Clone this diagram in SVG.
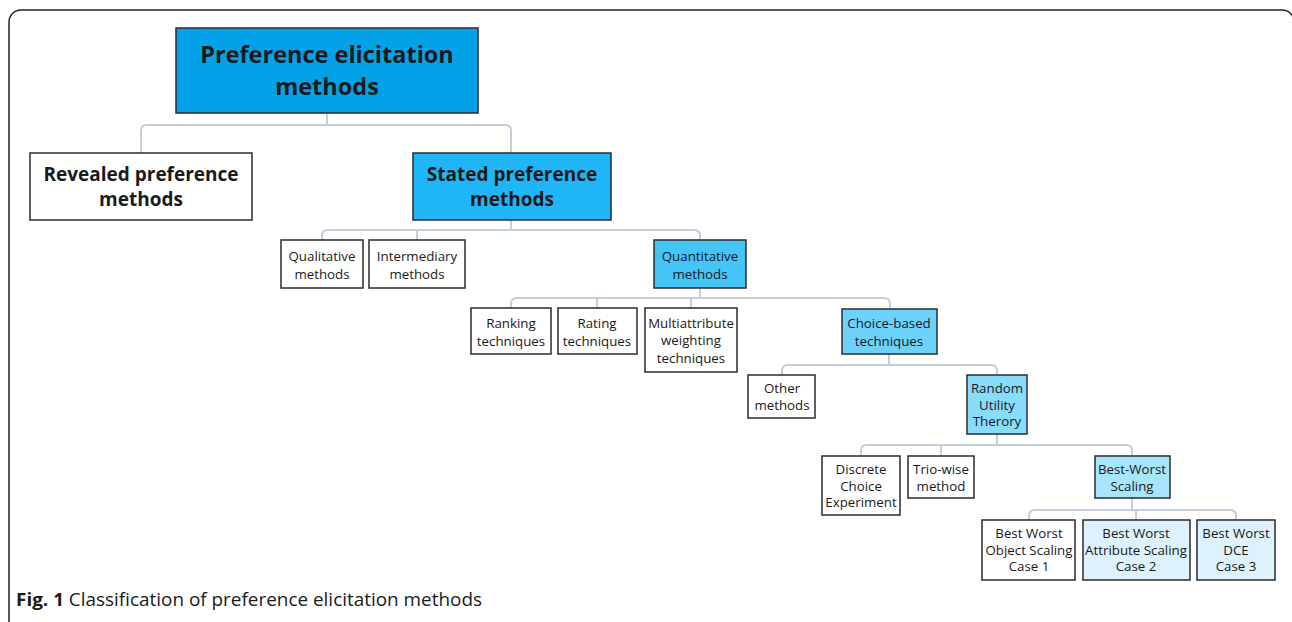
<svg xmlns="http://www.w3.org/2000/svg" width="1292" height="622" viewBox="0 0 1292 622">
<style>
.box{stroke:#2b2b2b;stroke-width:1.5}
.w{fill:#fff}
.c0{fill:#03a1e8}
.c1{fill:#1fb5f6}
.c2{fill:#45c4f6}
.c3{fill:#6cd2fa}
.c4{fill:#88dcfb}
.c5{fill:#a6e5fc}
.c6{fill:#ddf2fd}
.conn path{fill:none;stroke:#c3cfda;stroke-width:2}
text{font-family:"Open Sans","Noto Sans","DejaVu Sans",sans-serif;fill:#1a1a1a;text-anchor:middle}
.big{font-size:23.5px;font-weight:bold}
.mid{font-size:19px;font-weight:bold}
.sm{font-size:13.3px}
</style>
<rect width="1292" height="622" fill="#fff"/>
<path d="M9,622 V22 A12,12 0 0 1 21,10 H1282 A12,12 0 0 1 1294,22 V622" fill="none" stroke="#222" stroke-width="1.5"/>
<g class="conn" id="connectors">
<path d="M327,113 V125 M141,153 V131 Q141,125 147,125 H505 Q511,125 511,131 V153"/>
<path d="M511,220 V230 M322,240 V236 Q322,230 328,230 H694 Q700,230 700,236 V240 M417,240 V230"/>
<path d="M700,288 V298 M511,308 V304 Q511,298 517,298 H884 Q890,298 890,304 V309 M597,308 V298 M691,308 V298"/>
<path d="M889,354 V365 M782,375 V371 Q782,365 788,365 H991 Q997,365 997,371 V375"/>
<path d="M997,434 V445 M861,456 V451 Q861,445 867,445 H1126 Q1132,445 1132,451 V456 M941,456 V445"/>
<path d="M1132,498 V510 M1029,520 V516 Q1029,510 1035,510 H1230 Q1236,510 1236,516 V520 M1136,520 V510"/>
</g>
<g id="root"><rect class="box c0" x="176" y="28" width="302" height="85"/><text class="big" x="327" y="63">Preference elicitation</text><text class="big" x="327" y="95">methods</text></g>
<g id="revealed"><rect class="box w" x="30" y="153" width="222" height="67"/><text class="mid" x="141" y="181">Revealed preference</text><text class="mid" x="141" y="206">methods</text></g>
<g id="stated"><rect class="box c1" x="413" y="153" width="198" height="67"/><text class="mid" x="512" y="181">Stated preference</text><text class="mid" x="512" y="206">methods</text></g>
<g id="qualitative"><rect class="box w" x="281" y="240" width="82" height="48"/><text class="sm" x="322" y="260.5">Qualitative</text><text class="sm" x="322" y="278.5">methods</text></g>
<g id="intermediary"><rect class="box w" x="369" y="240" width="96" height="48"/><text class="sm" x="417" y="260.5">Intermediary</text><text class="sm" x="417" y="278.5">methods</text></g>
<g id="quantitative"><rect class="box c2" x="654" y="240" width="92" height="48"/><text class="sm" x="700" y="260.5">Quantitative</text><text class="sm" x="700" y="278.5">methods</text></g>
<g id="ranking"><rect class="box w" x="471" y="308" width="80" height="46"/><text class="sm" x="511" y="327.5">Ranking</text><text class="sm" x="511" y="345.5">techniques</text></g>
<g id="rating"><rect class="box w" x="558" y="308" width="79" height="46"/><text class="sm" x="597" y="327.5">Rating</text><text class="sm" x="597" y="345.5">techniques</text></g>
<g id="multiattribute"><rect class="box w" x="645" y="308" width="92" height="64"/><text class="sm" x="691" y="327.5">Multiattribute</text><text class="sm" x="691" y="345">weighting</text><text class="sm" x="691" y="362.5">techniques</text></g>
<g id="choice"><rect class="box c3" x="842" y="309" width="95" height="45"/><text class="sm" x="889" y="327.5">Choice-based</text><text class="sm" x="889" y="345.5">techniques</text></g>
<g id="other"><rect class="box w" x="748" y="375" width="67" height="43"/><text class="sm" x="782" y="392.5">Other</text><text class="sm" x="782" y="409.5">methods</text></g>
<g id="rut"><rect class="box c4" x="967" y="375" width="60" height="59"/><text class="sm" x="997" y="392.5">Random</text><text class="sm" x="997" y="409.5">Utility</text><text class="sm" x="997" y="426">Therory</text></g>
<g id="dce"><rect class="box w" x="822" y="456" width="78" height="59"/><text class="sm" x="861" y="473.5">Discrete</text><text class="sm" x="861" y="490.5">Choice</text><text class="sm" x="861" y="507">Experiment</text></g>
<g id="trio"><rect class="box w" x="908" y="456" width="66" height="42"/><text class="sm" x="941" y="473.5">Trio-wise</text><text class="sm" x="941" y="490.5">method</text></g>
<g id="bws"><rect class="box c5" x="1095" y="456" width="75" height="42"/><text class="sm" x="1132" y="473.5">Best-Worst</text><text class="sm" x="1132" y="490.5">Scaling</text></g>
<g id="case1"><rect class="box w" x="982" y="520" width="93" height="60"/><text class="sm" x="1029" y="538">Best Worst</text><text class="sm" x="1029" y="554.5">Object Scaling</text><text class="sm" x="1029" y="571">Case 1</text></g>
<g id="case2"><rect class="box c6" x="1083" y="520" width="107" height="60"/><text class="sm" x="1136" y="538">Best Worst</text><text class="sm" x="1136" y="554.5">Attribute Scaling</text><text class="sm" x="1136" y="571">Case 2</text></g>
<g id="case3"><rect class="box c6" x="1197" y="520" width="78" height="60"/><text class="sm" x="1236" y="538">Best Worst</text><text class="sm" x="1236" y="554.5">DCE</text><text class="sm" x="1236" y="571">Case 3</text></g>
<text x="16" y="606" textLength="466" lengthAdjust="spacingAndGlyphs" style="font-size:17.5px;text-anchor:start"><tspan font-weight="bold">Fig. 1</tspan> Classification of preference elicitation methods</text>
</svg>
